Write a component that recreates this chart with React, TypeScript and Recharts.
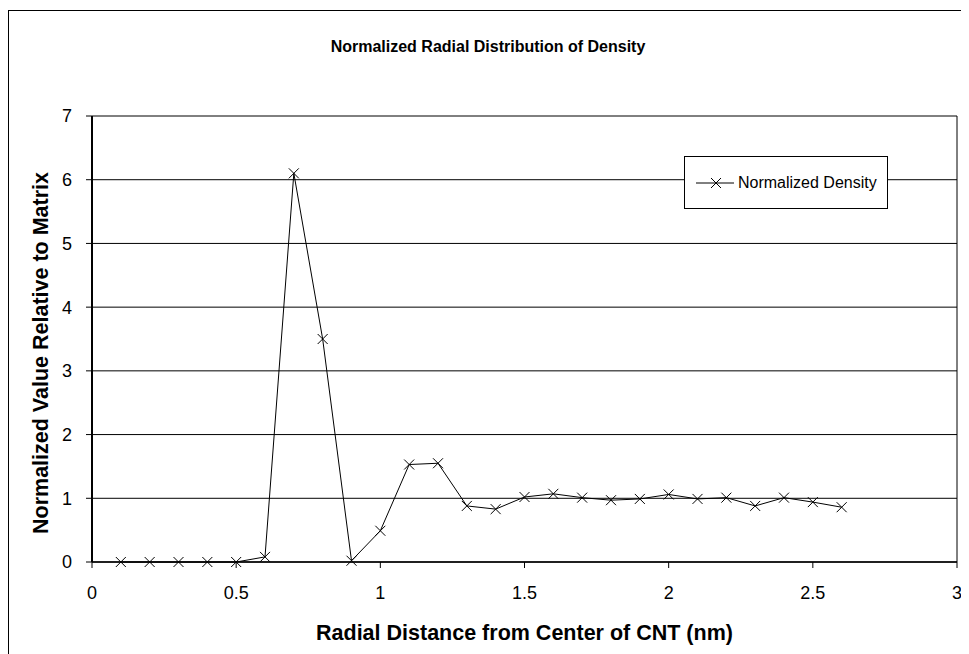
import React from 'react';
import {
  LineChart,
  Line,
  XAxis,
  YAxis,
  CartesianGrid,
  ReferenceLine,
} from 'recharts';

// radial distance (nm)
const radius = [
  0.1, 0.2, 0.3, 0.4, 0.5, 0.6, 0.7, 0.8, 0.9, 1.0, 1.1, 1.2, 1.3,
  1.4, 1.5, 1.6, 1.7, 1.8, 1.9, 2.0, 2.1, 2.2, 2.3, 2.4, 2.5, 2.6,
];
// normalized density
const density = [
  0, 0, 0, 0, 0, 0.08, 6.1, 3.5, 0.02, 0.49, 1.53, 1.55, 0.88,
  0.83, 1.02, 1.07, 1.01, 0.97, 0.99, 1.06, 0.99, 1.01, 0.88, 1.01, 0.94, 0.86,
];
const xTicks = [0, 0.5, 1, 1.5, 2, 2.5, 3];
const yTicks = [0, 1, 2, 3, 4, 5, 6, 7];

const data = radius.map((r, i) => ({ r, v: density[i] }));

const FONT = "Arial, 'Liberation Sans', sans-serif";

const CrossDot = (props: any) => {
  const { cx, cy } = props;
  if (cx == null || cy == null) return null;
  const s = 5;
  return (
    <g>
      <line x1={cx - s} y1={cy - s} x2={cx + s} y2={cy + s} stroke="#000" strokeWidth={1} />
      <line x1={cx - s} y1={cy + s} x2={cx + s} y2={cy - s} stroke="#000" strokeWidth={1} />
    </g>
  );
};

const YTitle = (props: any) => {
  const vb = props.viewBox || {};
  const x = 32;
  const y = vb.y + vb.height / 2 + 14;
  return (
    <text
      x={x}
      y={y}
      transform={`rotate(-90, ${x}, ${y})`}
      textAnchor="middle"
      dominantBaseline="central"
      fontFamily={FONT}
      fontWeight="bold"
      fontSize={21.5}
      fill="#000"
    >
      Normalized Value Relative to Matrix
    </text>
  );
};

export default function App() {
  return (
    <div style={{ width: 961, height: 646, overflow: 'hidden', position: 'relative' }}>
      <div
        style={{
          position: 'absolute',
          left: 0,
          top: 2,
          width: 1000,
          height: 700,
          borderLeft: '1px solid #000',
          borderTop: '1px solid #000',
          background: '#fff',
        }}
      >
        <div
          style={{
            position: 'absolute',
            left: 0,
            top: 27,
            width: 958,
            textAlign: 'center',
            fontFamily: FONT,
            fontWeight: 'bold',
            fontSize: 16,
          }}
        >
          Normalized Radial Distribution of Density
        </div>

        <LineChart
          width={960}
          height={640}
          data={data}
          margin={{ top: 105, right: 12, bottom: 49, left: 0 }}
        >
          <CartesianGrid vertical={false} stroke="#000" strokeWidth={1} horizontalValues={yTicks} />
          <XAxis
            type="number"
            dataKey="r"
            domain={[0, 3]}
            ticks={xTicks}
            height={40}
            tickSize={6}
            tickMargin={18}
            axisLine={{ stroke: '#000', strokeWidth: 1.5 }}
            tickLine={{ stroke: '#000' }}
            tick={{ fill: '#000', fontSize: 18, fontFamily: FONT }}
            label={{
              value: 'Radial Distance from Center of CNT (nm)',
              position: 'insideBottom',
              offset: -38,
              style: { fontFamily: FONT, fontWeight: 'bold', fontSize: 21.5, fill: '#000' },
            }}
          />
          <YAxis
            type="number"
            domain={[0, 7]}
            ticks={yTicks}
            width={83}
            tickSize={6}
            tickMargin={14}
            axisLine={{ stroke: '#000', strokeWidth: 2 }}
            tickLine={{ stroke: '#000' }}
            tick={{ fill: '#000', fontSize: 18, fontFamily: FONT }}
            label={<YTitle />}
          />
          <ReferenceLine x={3} stroke="#000" strokeWidth={1} />
          <Line
            type="linear"
            dataKey="v"
            stroke="#000"
            strokeWidth={1}
            dot={<CrossDot />}
            activeDot={false}
            isAnimationActive={false}
          />
        </LineChart>

        <div
          style={{
            position: 'absolute',
            left: 675,
            top: 145,
            width: 202,
            height: 51,
            border: '1px solid #000',
            background: '#fff',
            fontFamily: FONT,
            fontSize: 16,
            display: 'flex',
            alignItems: 'center',
          }}
        >
          <svg width={53} height={20} style={{ display: 'block', flex: 'none' }}>
            <line x1={11} y1={10} x2={49} y2={10} stroke="#000" strokeWidth={1} />
            <line x1={26} y1={5} x2={36} y2={15} stroke="#000" strokeWidth={1} />
            <line x1={26} y1={15} x2={36} y2={5} stroke="#000" strokeWidth={1} />
          </svg>
          <span style={{ whiteSpace: 'nowrap' }}>Normalized Density</span>
        </div>
      </div>
    </div>
  );
}
